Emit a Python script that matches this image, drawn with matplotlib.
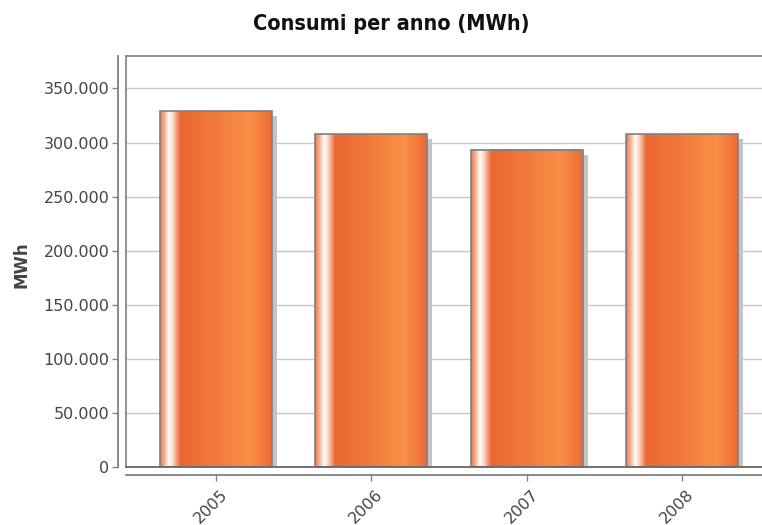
import matplotlib
matplotlib.use("Agg")
import matplotlib.pyplot as plt
import numpy as np
from matplotlib.colors import to_rgb
from matplotlib.patches import Rectangle
from matplotlib.transforms import ScaledTranslation
from matplotlib.ticker import FuncFormatter, MultipleLocator

years = ["2005", "2006", "2007", "2008"]
consumi = [329000, 307500, 293500, 307500]

# horizontal shading profile of each bar (position across the bar, colour)
stops = [(0.00, "#ee7a4a"), (0.04, "#f6b497"), (0.08, "#ffffff"), (0.115, "#fbd6c4"),
         (0.18, "#eb6633"), (0.50, "#f27b3c"), (0.80, "#fa8f47"), (0.92, "#f47a3c"),
         (1.00, "#ec6a33")]

def gradient(n=200):
    pos = np.array([s[0] for s in stops])
    cols = np.array([to_rgb(s[1]) for s in stops])
    t = np.linspace(0, 1, n)
    img = np.stack([np.interp(t, pos, cols[:, k]) for k in range(3)], axis=-1)
    return img[np.newaxis, :, :]

fig = plt.figure(figsize=(7.62, 5.25), dpi=100)
ax = fig.add_axes([126 / 762, 58 / 525, 636 / 762, 411 / 525])

x = np.arange(len(years))
width = 0.72
grad = gradient()
shadow_off = ScaledTranslation(5 / 100, -5 / 100, fig.dpi_scale_trans)

for xi, v in zip(x, consumi):
    left = xi - width / 2
    sh = Rectangle((left, 0), width, v, facecolor="#c4c4c4", edgecolor="none",
                   transform=ax.transData + shadow_off, zorder=2)
    ax.add_patch(sh)
    ax.imshow(grad, extent=[left, left + width, 0, v], aspect="auto",
              interpolation="bilinear", zorder=3)
    ax.add_patch(Rectangle((left, 0), width, v, facecolor="none",
                           edgecolor="#808080", linewidth=1.2, zorder=4))

ax.set_xlim(-0.579, 3.514)
ax.set_ylim(0, 380000)
ax.yaxis.set_major_locator(MultipleLocator(50000))
ax.yaxis.set_major_formatter(FuncFormatter(lambda v, p: f"{int(v):,}".replace(",", ".")))
ax.grid(axis="y", color="#c8c8c8", linewidth=1, zorder=0)
ax.set_axisbelow(True)

# plot frame
ax.spines["right"].set_visible(False)
ax.spines["top"].set_color("#888888")
ax.spines["top"].set_linewidth(1.3)
ax.spines["left"].set_position(("outward", 6))
ax.spines["bottom"].set_position(("outward", 6))
for s in ["left", "bottom"]:
    ax.spines[s].set_color("#808080")
    ax.spines[s].set_linewidth(1.3)
ax.plot([0, 0], [0, 1], transform=ax.transAxes, color="#888888", lw=1.3,
        clip_on=False, zorder=5)
ax.plot([0, 1], [0, 0], transform=ax.transAxes, color="#666666", lw=1.3,
        clip_on=False, zorder=5)

ax.set_xticks(x)
ax.set_xticklabels(years, rotation=45, ha="center")
ax.tick_params(axis="both", colors="#808080", labelcolor="#444444",
               labelsize=11.5, length=4, width=1)
ax.tick_params(axis="y", pad=2)
ax.tick_params(axis="x", pad=4)
for lab in ax.get_xticklabels():
    lab.set_transform(lab.get_transform() + ScaledTranslation(-5 / 100, 0, fig.dpi_scale_trans))

fig.text(391 / 762, 1 - 24 / 525, "Consumi per anno (MWh)", ha="center", va="center",
         fontsize=15.5, fontweight="bold", color="#111111", family="DejaVu Sans",
         stretch="condensed")
fig.text(21 / 762, 1 - 265 / 525, "MWh", rotation=90, ha="center", va="center",
         fontsize=12, fontweight="bold", color="#444444")

fig.savefig("out.png", dpi=100)
